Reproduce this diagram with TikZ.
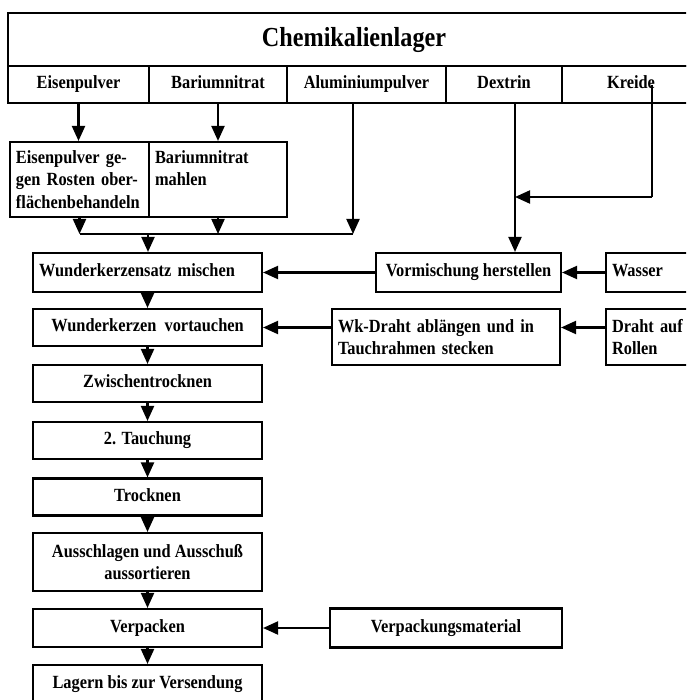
\documentclass[tikz,border=0pt]{standalone}
\usepackage{fontspec}
\setmainfont[FakeStretch=0.88]{Liberation Serif}
\usepackage{tikz}
\usetikzlibrary{arrows.meta, calc}

\tikzset{
    box/.style={draw, line width=2.1pt, inner sep=0pt, font=\bfseries},
    cell/.style={box, minimum height=37pt, text height=12.5pt, text depth=4pt},
    step box/.style={box, minimum width=229pt, minimum height=37pt},
    one line/.style={text height=12.5pt, text depth=4pt},
    flow/.style={line width=2.1pt, -{Triangle[width=13pt,length=15pt]}},
    wire/.style={line width=2.1pt}
}

\begin{document}
\fontsize{18.6}{22.5}\selectfont
\begin{tikzpicture}[x=1pt, y=-1pt]

    \useasboundingbox (0,0) rectangle (686,700);
    \clip (0,0) rectangle (686,700);

    % Chemikalienlager with its five stores
    \node[box, minimum width=692pt, minimum height=53pt, font=\fontsize{27.5}{30}\selectfont\bfseries] (lager) at (354,39.5) {Chemikalienlager};
    \node[cell, minimum width=141pt] (eisen) at (78.5,84.5) {Eisenpulver};
    \node[cell, minimum width=138pt] (barium) at (218,84.5) {Bariumnitrat};
    \node[cell, minimum width=159pt] (alu) at (366.5,84.5) {Aluminiumpulver};
    \node[cell, minimum width=116pt] (dextrin) at (504,84.5) {Dextrin};
    \node[cell, minimum width=138pt] (kreide) at (631,84.5) {Kreide};

    % Vorbehandlung
    \node[box, minimum width=139pt, minimum height=75pt, text width=127pt, align=left, inner xsep=6pt] (eisenbeh) at (79.5,179.5) {Eisenpulver ge-\\gen Rosten ober-\\flächenbehandeln};
    \node[box, minimum width=138pt, minimum height=75pt, text width=126pt, align=left, inner xsep=6pt] (bariumbeh) at (218,179.5) {Bariumnitrat\\mahlen\\~};

    % Hauptlinie
    \node[box, one line, minimum width=229pt, minimum height=39pt, text width=217pt, align=left, inner xsep=6pt] (mischen) at (147.5,272.5) {Wunderkerzensatz mischen};
    \node[step box, one line] (vortauchen) at (147.5,327.5) {Wunderkerzen\ \ vortauchen};
    \node[step box, one line] (zwischen) at (147.5,383.5) {Zwischentrocknen};
    \node[step box, one line] (tauchung) at (147.5,440.5) {2. Tauchung};
    \node[step box, one line] (trocknen) at (147.5,497) {Trocknen};
    \node[step box, minimum height=58pt, align=center] (ausschlagen) at (147.5,562) {Ausschlagen und Ausschuß\\aussortieren};
    \node[step box, one line, minimum height=38pt] (verpacken) at (147.5,628) {Verpacken};
    \node[step box, one line, minimum height=38pt] (lagern) at (147.5,684) {Lagern bis zur Versendung};

    % Nebenlinien
    \node[box, one line, minimum width=185pt, minimum height=39pt] (vormischung) at (468.5,272.5) {Vormischung herstellen};
    \node[box, one line, minimum width=90pt, minimum height=39pt, text width=78pt, align=left, inner xsep=6pt] (wasser) at (651,272.5) {Wasser};
    \node[box, minimum width=228pt, minimum height=56pt, text width=216pt, align=left, inner xsep=6pt] (wkdraht) at (446,337) {Wk-Draht ablängen und in\\Tauchrahmen stecken};
    \node[box, minimum width=90pt, minimum height=56pt, text width=78pt, align=left, inner xsep=6pt] (rollen) at (651,337) {Draht auf\\Rollen};
    \node[box, one line, minimum width=232pt, minimum height=39pt] (material) at (446,628) {Verpackungsmaterial};

    % free ends of the lines
    \coordinate (alutop) at (353,103);
    \coordinate (dextop) at (515,103);
    \coordinate (kreidetop) at (652,85);
    \coordinate (kreidebend) at (652,197);
    \coordinate (join) at (148,234);

    % Rohstoffe nach unten
    \draw[flow] (eisen.south) -- (eisen.south |- eisenbeh.north);
    \draw[flow] (barium.south) -- (barium.south |- bariumbeh.north);
    \draw[flow] (eisenbeh.south) -- (eisenbeh.south |- join);
    \draw[flow] (bariumbeh.south) -- (bariumbeh.south |- join);
    \draw[flow] (alutop) -- (alutop |- join);
    \draw[wire] (eisenbeh.south |- join) -- (alutop |- join);
    \draw[flow] (join) -- (join |- mischen.north);

    % Dextrin und Kreide
    \draw[flow] (dextop) -- (dextop |- vormischung.north);
    \draw[wire] (kreidetop) -- (kreidebend);
    \draw[flow] (kreidebend) -- (dextop |- kreidebend);

    % Zufuhr von rechts
    \draw[flow] (wasser.west) -- (vormischung.east);
    \draw[flow] (vormischung.west) -- (mischen.east);
    \draw[flow] (rollen.west |- vortauchen) -- (wkdraht.east |- vortauchen);
    \draw[flow] (wkdraht.west |- vortauchen) -- (vortauchen.east);
    \draw[flow] (material.west) -- (verpacken.east);

    % Schritte der Hauptlinie
    \foreach \a/\b in {mischen/vortauchen, vortauchen/zwischen, zwischen/tauchung, tauchung/trocknen, trocknen/ausschlagen, ausschlagen/verpacken, verpacken/lagern}
        \draw[flow] (\a.south) -- (\b.north);

\end{tikzpicture}
\end{document}
